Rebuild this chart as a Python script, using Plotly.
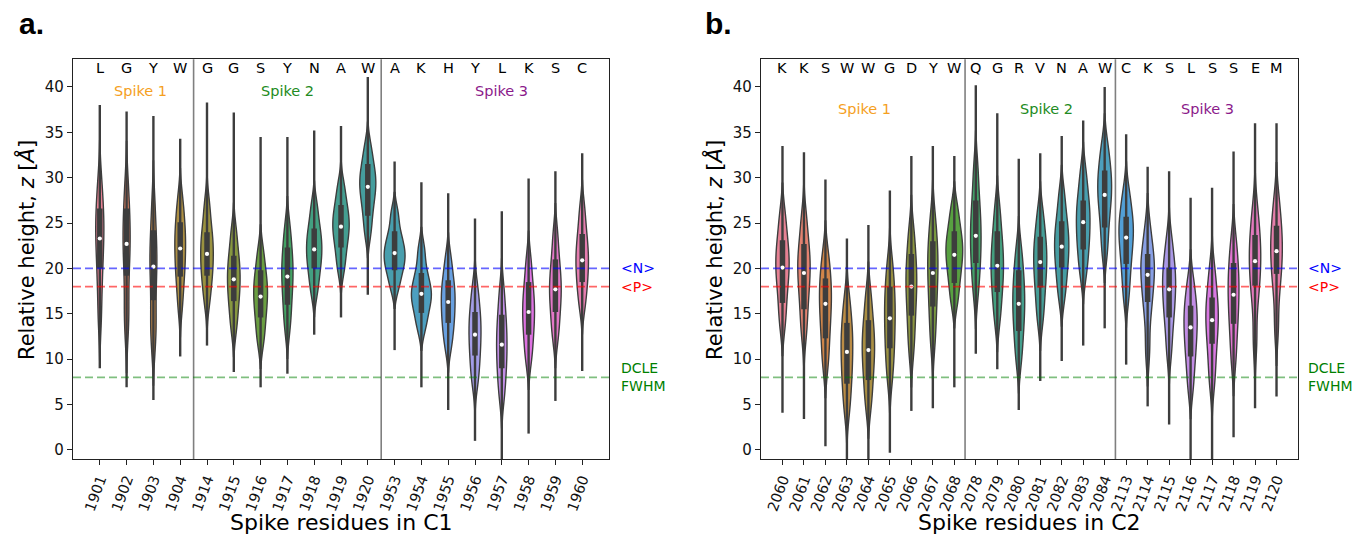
import math
import colorsys
import numpy as np
import plotly.graph_objects as go

# ---------------- data: panel a (cluster C1) ----------------
res_a = ["1901", "1902", "1903", "1904", "1914", "1915", "1916", "1917", "1918", "1919",
         "1920", "1953", "1954", "1955", "1956", "1957", "1958", "1959", "1960"]
aa_a = ["L", "G", "Y", "W", "G", "G", "S", "Y", "N", "A", "W",
        "A", "K", "H", "Y", "L", "K", "S", "C"]
# estimated body quantiles (equal-mass)
samples_a = [
    [14.5, 18, 20.5, 22.5, 24, 25.5, 27, 29.5],
    [13.5, 15.5, 19, 21.5, 23, 24.5, 26.5, 29],
    [12, 13.5, 16, 19, 20.5, 22, 24, 27],
    [16, 18.5, 20, 21.5, 22.8, 24, 25.5, 27.5],
    [16.5, 18.5, 19.8, 21, 22.2, 23.3, 24.7, 27],
    [13.5, 15.5, 17, 18.2, 19.3, 20.5, 21.8, 24],
    [12, 13.8, 15.3, 16.5, 17.5, 18.6, 19.8, 21.8],
    [13.5, 15.5, 17.2, 18.6, 19.8, 21, 22.5, 24.5],
    [17.5, 19.3, 20.6, 21.6, 22.6, 23.6, 24.8, 26.8],
    [20, 21.8, 23.2, 24.2, 25.1, 26, 27.2, 29],
    [24, 26, 27.5, 28.6, 29.5, 30.4, 31.5, 33.3],
    [18, 19.5, 20.5, 21.2, 22, 22.8, 24, 26],
    [13.5, 15, 16.2, 16.9, 17.6, 18.5, 19.8, 22],
    [11.5, 13.2, 14.5, 15.6, 16.8, 17.8, 19, 21],
    [7.5, 9.3, 10.8, 12.1, 13.3, 14.5, 15.8, 17.8],
    [6, 8, 9.6, 10.9, 12.3, 13.6, 15.2, 17.5],
    [10, 11.8, 13.4, 14.6, 15.8, 17, 18.5, 20.8],
    [12.5, 14.3, 16, 17.2, 18.3, 19.6, 21.2, 23.7],
    [16, 17.8, 19.2, 20.4, 21.5, 22.7, 24.2, 26.5],
]
lo_a = [9.0, 6.9, 5.5, 10.3, 11.5, 8.6, 6.9, 8.4, 12.7, 14.6, 17.1,
        11.0, 6.9, 4.4, 1.0, -1.5, 1.8, 5.4, 8.7]
hi_a = [38.0, 37.3, 36.8, 34.3, 38.3, 37.2, 34.5, 34.5, 35.2, 35.7, 41.1,
        31.8, 29.5, 28.3, 25.5, 26.3, 29.9, 30.7, 32.7]
q1_a = [20.0, 19.2, 16.5, 19.1, 19.2, 16.4, 14.6, 16.0, 20.0, 22.3, 25.8,
        19.8, 15.1, 14.0, 10.4, 9.0, 12.7, 15.2, 18.5]
med_a = [23.3, 22.7, 20.2, 22.2, 21.6, 18.8, 16.9, 19.1, 22.1, 24.6, 29.0,
         21.7, 17.2, 16.3, 12.7, 11.6, 15.2, 17.7, 20.9]
q3_a = [26.6, 26.6, 24.2, 25.1, 24.0, 21.4, 19.8, 22.3, 24.4, 27.0, 31.5,
        24.1, 19.5, 18.7, 15.2, 14.9, 18.5, 21.0, 23.8]

# ---------------- data: panel b (cluster C2) ----------------
res_b = ["2060", "2061", "2062", "2063", "2064", "2065", "2066", "2067", "2068",
         "2078", "2079", "2080", "2081", "2082", "2083", "2084",
         "2113", "2114", "2115", "2116", "2117", "2118", "2119", "2120"]
aa_b = ["K", "K", "S", "W", "W", "G", "D", "Y", "W",
        "Q", "G", "R", "V", "N", "A", "W",
        "C", "K", "S", "L", "S", "S", "E", "M"]
samples_b = [
    [14, 16.3, 18.3, 19.6, 20.8, 22, 23.5, 25.8],
    [13, 15.5, 17.5, 19, 20.3, 21.5, 23, 25.5],
    [9.5, 11.8, 13.8, 15.3, 16.8, 18, 19.5, 21.5],
    [4.5, 6.8, 8.5, 10, 11.5, 12.8, 14.3, 16.5],
    [5, 7.2, 9, 10.4, 11.7, 13, 14.6, 17],
    [8, 10.3, 12, 13.7, 15.2, 16.7, 18.3, 20.5],
    [11, 13.5, 15.5, 17.3, 18.7, 20, 21.8, 24],
    [12, 14.7, 16.8, 18.6, 20.2, 21.6, 23.2, 25.5],
    [16.5, 18.5, 20, 21.2, 22.2, 23.2, 24.5, 26.5],
    [17.5, 19.8, 21.5, 23, 24.5, 26, 28, 31],
    [14.5, 16.7, 18.4, 19.7, 21, 22.4, 24, 26.5],
    [10, 12.3, 14, 15.5, 16.8, 18.2, 19.8, 22],
    [14.5, 16.7, 18.5, 19.9, 21.2, 22.4, 23.8, 26],
    [17, 19, 20.6, 21.8, 23, 24.2, 25.6, 28],
    [19.5, 21.5, 23, 24.3, 25.6, 26.8, 28.2, 30.5],
    [22, 24.5, 26.5, 27.8, 29, 30.2, 31.5, 33.5],
    [17, 19.5, 21.3, 22.8, 24, 25, 26.3, 28.3],
    [11, 15, 17, 18.6, 19.8, 20.8, 22, 24.3],
    [11, 13.8, 15.5, 17, 18.3, 19.5, 20.8, 23],
    [7, 9.5, 11.2, 12.7, 14, 15.2, 16.5, 18.5],
    [7.5, 10, 12, 13.5, 14.8, 16, 17.5, 19.8],
    [10, 12.7, 14.7, 16.3, 17.8, 19.2, 20.8, 23],
    [12, 16.5, 18.5, 20, 21.4, 22.7, 24.2, 26.5],
    [13.5, 17.5, 19.6, 21, 22.4, 23.7, 25.2, 27.5],
]
lo_b = [4.1, 3.4, 0.4, -1.5, -1.5, -0.3, 4.3, 4.6, 6.9,
        10.6, 8.9, 4.4, 7.6, 9.8, 11.5, 13.4,
        9.4, 4.8, 2.8, -1.5, -1.5, 1.4, 4.6, 5.9]
hi_b = [33.5, 32.8, 29.8, 23.3, 24.8, 28.6, 32.4, 33.5, 32.4,
        40.2, 37.1, 32.1, 32.7, 34.6, 36.3, 40.0,
        34.8, 31.2, 30.7, 27.8, 28.9, 32.9, 36.0, 36.0]
q1_b = [16.2, 15.5, 12.3, 7.3, 7.7, 11.2, 14.8, 15.8, 18.4,
        20.6, 17.4, 13.1, 17.9, 20.1, 22.1, 24.5,
        20.5, 16.3, 14.6, 10.3, 11.7, 13.9, 18.1, 19.4]
med_b = [20.1, 19.5, 16.1, 10.8, 11.0, 14.5, 18.0, 19.5, 21.5,
         23.6, 20.3, 16.1, 20.7, 22.4, 25.1, 28.1,
         23.4, 19.3, 17.7, 13.5, 14.3, 17.1, 20.8, 21.9]
q3_b = [23.1, 22.7, 18.9, 14.0, 14.3, 18.0, 21.6, 23.0, 24.1,
        27.5, 24.1, 19.8, 23.5, 25.2, 27.5, 30.8,
        25.7, 21.6, 20.1, 15.9, 16.8, 20.6, 23.7, 24.7]

ref_levels = [20, 18, 8]          # <N>, <P>, DCLE FWHM
sep_a = [3.5, 10.5]
sep_b = [8.5, 15.5]
spike_names = ["Spike 1", "Spike 2", "Spike 3"]
spike_pos_a = [1.5, 7.0, 15.0]
spike_pos_b = [3.8, 12.3, 19.8]

# ---------------- colour helpers (seaborn husl palette, desaturated) ----------------
_M = [[3.2406, -1.5372, -0.4986], [-0.9689, 1.8758, 0.0415], [0.0557, -0.2040, 1.0570]]
_refU, _refV = 0.19784, 0.46834


def _max_chroma(L, H):
    hrad = math.radians(H)
    sinH, cosH = math.sin(hrad), math.cos(hrad)
    sub1 = (L + 16) ** 3 / 1560896.0
    sub2 = sub1 if sub1 > 0.008856 else L / 903.3
    result = float("inf")
    for m1, m2, m3 in _M:
        top = (0.99915 * m1 + 1.05122 * m2 + 1.14460 * m3) * sub2
        rbottom = 0.86330 * m3 - 0.17266 * m2
        lbottom = 0.12949 * m3 - 0.38848 * m1
        bottom = (rbottom * sinH + lbottom * cosH) * sub2
        for t in (0.0, 1.0):
            C = L * (top - 1.05122 * t) / (bottom + 0.17266 * sinH * t)
            if 0.0 < C < result:
                result = C
    return result


def _husl_to_rgb(h, s, l):
    C = _max_chroma(l, h) / 100.0 * s
    hr = math.radians(h)
    U, V = math.cos(hr) * C, math.sin(hr) * C
    t = (l + 16.0) / 116.0
    varY = t ** 3 if t ** 3 > 0.008856 else (116.0 * t - 16.0) / 903.3
    varU = U / (13.0 * l) + _refU
    varV = V / (13.0 * l) + _refV
    Y = varY
    X = -(9.0 * Y * varU) / ((varU - 4.0) * varV - varU * varV)
    Z = (9.0 * Y - 15.0 * varV * Y - varV * X) / (3.0 * varV)
    out = []
    for row in _M:
        c = row[0] * X + row[1] * Y + row[2] * Z
        c = 12.92 * c if c <= 0.0031308 else 1.055 * c ** (1 / 2.4) - 0.055
        out.append(min(max(c, 0.0), 1.0))
    return out


def husl_colors(n, desat=0.75):
    hues = (np.linspace(0, 1, n + 1)[:-1] + 0.01) % 1 * 359
    cols = []
    for h in hues:
        r, g, b = _husl_to_rgb(h, 0.9 * 99, 0.65 * 99)
        hh, ll, ss = colorsys.rgb_to_hls(r, g, b)
        r, g, b = colorsys.hls_to_rgb(hh, ll, ss * desat)
        cols.append("rgb(%d,%d,%d)" % (round(r * 255), round(g * 255), round(b * 255)))
    return cols


EDGE = "#3d3d3d"
FONT = "DejaVu Sans"
W, H = 1366, 540

fig = go.Figure()


def add_panel(xa, ya, samples, lo, hi, q1, med, q3):
    n = len(samples)
    cols = husl_colors(n)
    grid = np.linspace(-10, 50, 1501)
    peaks, bws = [], []
    for s in samples:
        s = np.asarray(s, float)
        bw = 0.5 * s.std()
        d = np.exp(-0.5 * ((grid[:, None] - s[None, :]) / bw) ** 2).sum(1) / (len(s) * bw * np.sqrt(2 * np.pi))
        peaks.append(d.max())
        bws.append(bw)
    pmax = max(peaks)
    for i, s in enumerate(samples):
        fig.add_trace(go.Violin(
            y=s, x0=i, xaxis=xa, yaxis=ya, width=0.78 * (peaks[i] / pmax) ** 1.4,
            bandwidth=bws[i], scalemode="width", spanmode="soft",
            fillcolor=cols[i], line=dict(color=EDGE, width=1.4), opacity=1,
            points=False, box_visible=False, meanline_visible=False,
            showlegend=False, hoverinfo="skip"))
    tx, ty, bx, by = [], [], [], []
    for i in range(n):
        tx += [i, i, None]
        ty += [lo[i], hi[i], None]
        bx += [i, i, None]
        by += [q1[i], q3[i], None]
    fig.add_trace(go.Scatter(x=tx, y=ty, xaxis=xa, yaxis=ya, mode="lines",
                             line=dict(color=EDGE, width=2.4), showlegend=False, hoverinfo="skip"))
    fig.add_trace(go.Scatter(x=bx, y=by, xaxis=xa, yaxis=ya, mode="lines",
                             line=dict(color=EDGE, width=5.5), showlegend=False, hoverinfo="skip"))
    fig.add_trace(go.Scatter(x=list(range(n)), y=med, xaxis=xa, yaxis=ya, mode="markers",
                             marker=dict(color="white", size=4.2), showlegend=False, hoverinfo="skip"))


add_panel("x", "y", samples_a, lo_a, hi_a, q1_a, med_a, q3_a)
add_panel("x2", "y2", samples_b, lo_b, hi_b, q1_b, med_b, q3_b)

ydom = [1 - 459 / H, 1 - 59.3 / H]
axis_common = dict(showline=True, mirror=True, linecolor="#222222", linewidth=1.2,
                   showgrid=False, zeroline=False, ticks="outside", ticklen=5,
                   tickwidth=1, tickcolor="#222222", automargin=False)
xfont = dict(family=FONT, size=14.5, color="#111111")
yfont = dict(family=FONT, size=15, color="#111111")

fig.update_layout(
    width=W, height=H, margin=dict(l=0, r=0, t=0, b=0, autoexpand=False),
    paper_bgcolor="white", plot_bgcolor="white", violinmode="overlay",
    showlegend=False,
    xaxis=dict(domain=[73 / W, 609 / W], range=[-1, len(res_a)], anchor="y",
               tickvals=list(range(len(res_a))), ticktext=res_a, tickangle=-70,
               tickfont=xfont, **axis_common),
    yaxis=dict(domain=ydom, range=[-1, 43.05], anchor="x",
               tickvals=list(range(0, 41, 5)), tickfont=yfont, **axis_common),
    xaxis2=dict(domain=[761 / W, 1298 / W], range=[-1, len(res_b)], anchor="y2",
                tickvals=list(range(len(res_b))), ticktext=res_b, tickangle=-70,
                tickfont=xfont, **axis_common),
    yaxis2=dict(domain=ydom, range=[-1, 43.05], anchor="x2",
                tickvals=list(range(0, 41, 5)), tickfont=yfont, **axis_common),
)

ref_colors = ["rgba(0,0,255,0.6)", "rgba(255,0,0,0.6)", "rgba(0,128,0,0.5)"]
shapes = []
for xs, ys, seps in (("x", "y", sep_a), ("x2", "y2", sep_b)):
    for s in seps:
        shapes.append(dict(type="line", xref=xs, yref=ys + " domain", x0=s, x1=s, y0=0, y1=1,
                           line=dict(color="#7f7f7f", width=1.6), layer="above"))
    for lvl, c in zip(ref_levels, ref_colors):
        shapes.append(dict(type="line", xref=xs + " domain", yref=ys, x0=0, x1=1, y0=lvl, y1=lvl,
                           line=dict(color=c, width=1.8, dash="8px,4px"), layer="above"))
fig.update_layout(shapes=shapes)

ann = []


def txt(x, y, text, size=14, color="black", xref="paper", yref="paper", family=FONT, **kw):
    d = dict(x=x, y=y, xref=xref, yref=yref, text=text, showarrow=False,
             xanchor="center", yanchor="middle",
             font=dict(family=family, size=size, color=color))
    d.update(kw)
    ann.append(d)


spike_colors = ["#f5a01e", "#228b22", "#8b1a8b"]
for xs, ys, aas, spos, spike_y, right_x in (("x", "y", aa_a, spike_pos_a, 91, 619),
                                             ("x2", "y2", aa_b, spike_pos_b, 109, 1306)):
    for i, a in enumerate(aas):
        txt(i, 1 - 68 / H, a, size=14.5, xref=xs)
    for nm, p, c in zip(spike_names, spos, spike_colors):
        txt(p, 1 - spike_y / H, nm, size=14.5, color=c, xref=xs)
    txt(right_x / W, 20, "&lt;N&gt;", size=14, color="blue", yref=ys, xanchor="left")
    txt(right_x / W, 18, "&lt;P&gt;", size=14, color="red", yref=ys, xanchor="left")
    txt(right_x / W, 8, "DCLE<br>FWHM", size=14, color="green", yref=ys, xanchor="left", align="left")

for off, lab in ((0, "a."), (688, "b.")):
    txt((31 + off) / W, 1 - 24 / H, "<b>%s</b>" % lab, size=30, family="Liberation Sans")
    txt((26 + off) / W, 1 - 250 / H, "Relative height, <i>z</i> [<i>Å</i>]", size=21, textangle=-90)
for cx, xt in ((341, "Spike residues in C1"), (1029.5, "Spike residues in C2")):
    txt(cx / W, 1 - 522 / H, xt, size=22)

fig.update_layout(annotations=ann)

fig.write_html("out.html", post_script="document.body.style.margin='0px';",
               config={"displayModeBar": False})
